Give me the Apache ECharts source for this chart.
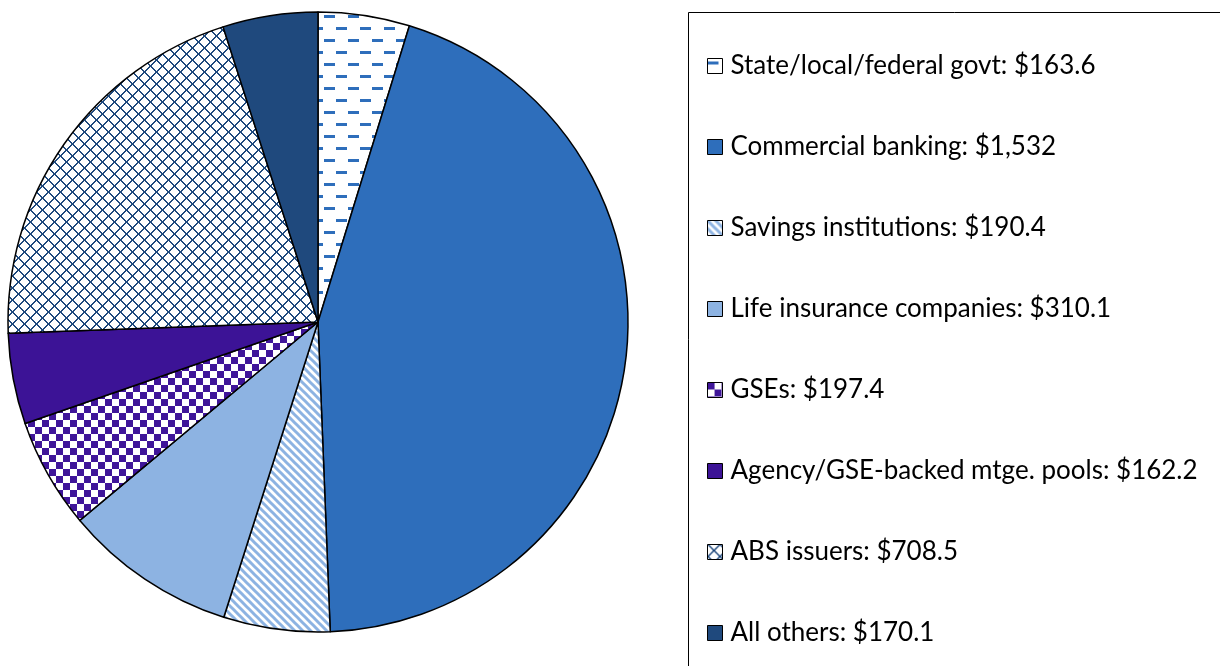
<!DOCTYPE html>
<html>
<head>
<meta charset="utf-8">
<script src="https://cdn.jsdelivr.net/npm/echarts@6/dist/echarts.min.js"></script>
<style>
  html, body { margin: 0; padding: 0; background: #fff; }
  #main { width: 1220px; height: 666px; }
</style>
</head>
<body>
<div id="main"></div>
<script>
// holders of the debt, clockwise from 12 o'clock
var categories = ['State/local/federal govt', 'Commercial banking', 'Savings institutions',
  'Life insurance companies', 'GSEs', 'Agency/GSE-backed mtge. pools', 'ABS issuers', 'All others'];
var values = [163.6, 1532, 190.4, 310.1, 197.4, 162.2, 708.5, 170.1];

function makeCanvas(w, h, draw) {
  var c = document.createElement('canvas');
  c.width = w; c.height = h;
  var ctx = c.getContext('2d');
  ctx.fillStyle = '#ffffff';
  ctx.fillRect(0, 0, w, h);
  draw(ctx);
  return { image: c, repeat: 'repeat' };
}

// dashes
var dashPattern = makeCanvas(24, 24, function (ctx) {
  ctx.fillStyle = '#2E6EBB';
  ctx.fillRect(0, 3, 11, 3);
  ctx.fillRect(12, 15, 11, 3);
});
// diagonal stripes "\"
var stripePattern = makeCanvas(8, 8, function (ctx) {
  ctx.strokeStyle = '#8DB3E2';
  ctx.lineWidth = 3;
  for (var k = -2; k <= 2; k++) {
    ctx.beginPath();
    ctx.moveTo(k * 8 - 2, -2);
    ctx.lineTo(k * 8 + 10, 10);
    ctx.stroke();
  }
});
// checker
var checkPattern = makeCanvas(14, 14, function (ctx) {
  ctx.fillStyle = '#3F1599';
  ctx.fillRect(0, 0, 7, 7);
  ctx.fillRect(7, 7, 7, 7);
});
// lattice
var latticePattern = makeCanvas(12, 12, function (ctx) {
  ctx.fillStyle = '#1F497D';
  for (var i = 0; i < 12; i++) {
    ctx.fillRect(i, i, 2, 1);
    ctx.fillRect(11 - i, i, 2, 1);
  }
  ctx.fillRect(0, 0, 1, 1);
});

var colors = [dashPattern, '#2E6EBB', stripePattern, '#8DB3E2', checkPattern, '#3C1396', latticePattern, '#1F497D'];

function fmt(v) {
  return v >= 1000 ? v.toLocaleString('en-US') : v.toFixed(1);
}

var pieData = categories.map(function (name, i) {
  return { name: name, value: values[i], itemStyle: { color: colors[i] } };
});

var myChart = echarts.init(document.getElementById('main'));
myChart.setOption({
  animation: false,
  backgroundColor: '#fff',
  graphic: [{
    type: 'rect',
    shape: { x: 688.5, y: 12.5, width: 700, height: 700 },
    style: { fill: 'none', stroke: '#000', lineWidth: 1 },
    z: -1
  }],
  legend: {
    orient: 'vertical',
    left: 707,
    top: 51,
    padding: 0,
    itemWidth: 15,
    itemHeight: 15,
    itemGap: 51,
    icon: 'rect',
    itemStyle: { borderColor: '#000', borderWidth: 1 },
    textStyle: { fontFamily: 'Lato', fontSize: 26, lineHeight: 30, color: '#000', padding: [0, 0, 0, 3] },
    formatter: function (name) {
      var i = categories.indexOf(name);
      return name + ': $' + fmt(values[i]);
    },
    data: categories
  },
  series: [{
    type: 'pie',
    center: [318, 322],
    radius: 310,
    startAngle: 90,
    clockwise: true,
    label: { show: false },
    labelLine: { show: false },
    emphasis: { disabled: true },
    itemStyle: { borderColor: '#000', borderWidth: 1.5 },
    data: pieData
  }]
});
</script>
</body>
</html>
